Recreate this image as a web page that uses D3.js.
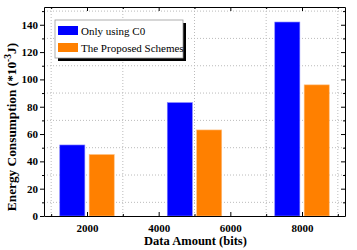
<!DOCTYPE html>
<html>
<head>
<meta charset="utf-8">
<script src="https://cdn.jsdelivr.net/npm/d3@7"></script>
<style>
body { margin: 0; background: #fff; }
svg { display: block; }
</style>
</head>
<body>
<div class="chart"></div>
<script>
var width = 357, height = 250;
var margin = {top: 7, right: 12, bottom: 34, left: 44};

// data
var groups = [2000, 5000, 8000];
var only_c0 = [52, 83, 142];
var proposed = [45, 63, 96];
var series_names = ["Only using C0", "The Proposed Schemes"];
var series_colors = ["#0000ff", "#ff8000"];
var x_ticks = [2000, 4000, 6000, 8000];
var x_minor = [1000, 3000, 5000, 7000, 9000];
var y_ticks = [0, 20, 40, 60, 80, 100, 120, 140];
var y_minor = [10, 30, 50, 70, 90, 110, 130, 150];

var svg = d3.select(".chart").append("svg")
    .attr("width", width)
    .attr("height", height)
    .style("font-family", "Liberation Serif");

var x = d3.scaleLinear()
    .domain([800, 9200])
    .range([margin.left, width - margin.right]);

var y = d3.scaleLinear()
    .domain([0, 153])
    .range([height - margin.bottom, margin.top]);

var font = "Liberation Serif";

// grid (dotted, at minor ticks)
var grid = svg.append("g").attr("class", "grid");
grid.selectAll("line.gx")
    .data(x_minor)
    .enter().append("line")
    .attr("x1", d => x(d)).attr("x2", d => x(d))
    .attr("y1", y.range()[0]).attr("y2", y.range()[1])
    .attr("stroke", "#bbb").attr("stroke-width", 1)
    .attr("stroke-dasharray", "1,2");
grid.selectAll("line.gy")
    .data(y_minor)
    .enter().append("line")
    .attr("x1", x.range()[0]).attr("x2", x.range()[1])
    .attr("y1", d => y(d)).attr("y2", d => y(d))
    .attr("stroke", "#bbb").attr("stroke-width", 1)
    .attr("stroke-dasharray", "1,2");

// bars
var barW = 700, gap = 120;
var all_series = [only_c0, proposed];
var bars = svg.append("g");
all_series.forEach(function(vals, si){
    bars.selectAll("rect.s" + si)
        .data(vals)
        .enter().append("rect")
        .attr("x", (d, i) => si == 0 ? x(groups[i] - gap / 2 - barW) : x(groups[i] + gap / 2))
        .attr("width", x(barW) - x(0))
        .attr("y", d => y(d))
        .attr("height", d => y(0) - y(d))
        .attr("fill", series_colors[si])
        .attr("stroke", si == 0 ? "#7f7fff" : "#ffc080")
        .attr("stroke-width", 0.6);
});

// axes
function styleAxis(g){
    g.attr("font-family", font);
    g.selectAll("text")
        .attr("font-family", font)
        .attr("font-weight", "bold")
        .attr("font-size", "11px")
        .attr("fill", "#000");
    g.select(".domain").attr("stroke", "#000").attr("stroke-width", 1);
    g.selectAll(".tick line").attr("stroke", "#000");
}
function minorStyle(g){
    g.select(".domain").remove();
    g.selectAll("line").attr("stroke", "#000");
}

var xAxis = svg.append("g")
    .attr("transform", "translate(0," + y.range()[0] + ")")
    .call(d3.axisBottom(x).tickValues(x_ticks).tickSize(-4).tickPadding(8).tickSizeOuter(0).tickFormat(d3.format("d")));
styleAxis(xAxis);
svg.append("g")
    .attr("transform", "translate(0," + y.range()[0] + ")")
    .call(d3.axisBottom(x).tickValues(x_minor).tickSize(-2).tickFormat("").tickSizeOuter(0))
    .call(minorStyle);

var xTop = svg.append("g")
    .attr("transform", "translate(0," + y.range()[1] + ")")
    .call(d3.axisTop(x).tickValues(x_ticks).tickSize(-4).tickFormat("").tickSizeOuter(0));
styleAxis(xTop);
svg.append("g")
    .attr("transform", "translate(0," + y.range()[1] + ")")
    .call(d3.axisTop(x).tickValues(x_minor).tickSize(-2).tickFormat("").tickSizeOuter(0))
    .call(minorStyle);

var yAxis = svg.append("g")
    .attr("transform", "translate(" + x.range()[0] + ",0)")
    .call(d3.axisLeft(y).tickValues(y_ticks).tickSize(4).tickPadding(2).tickSizeOuter(0));
styleAxis(yAxis);
svg.append("g")
    .attr("transform", "translate(" + x.range()[0] + ",0)")
    .call(d3.axisLeft(y).tickValues(y_minor).tickSize(2).tickFormat("").tickSizeOuter(0))
    .call(minorStyle);

var yRight = svg.append("g")
    .attr("transform", "translate(" + x.range()[1] + ",0)")
    .call(d3.axisRight(y).tickValues(y_ticks).tickSize(-4).tickFormat("").tickSizeOuter(0));
styleAxis(yRight);
svg.append("g")
    .attr("transform", "translate(" + x.range()[1] + ",0)")
    .call(d3.axisRight(y).tickValues(y_minor).tickSize(-2).tickFormat("").tickSizeOuter(0))
    .call(minorStyle);

// axis titles
svg.append("text")
    .attr("x", 195.5)
    .attr("y", 245)
    .attr("text-anchor", "middle")
    .attr("font-family", font)
    .attr("font-weight", "bold")
    .attr("font-size", "12.5px")
    .text("Data Amount (bits)");

var ylab = svg.append("text")
    .attr("transform", "translate(16,127) rotate(-90)")
    .attr("text-anchor", "middle")
    .attr("font-family", font)
    .attr("font-weight", "bold")
    .attr("font-size", "13.3px");
ylab.append("tspan").text("Energy Consumption (*10");
ylab.append("tspan").attr("dy", -5).attr("font-size", "9.5px").text("-3");
ylab.append("tspan").attr("dy", 5).text("J)");

// legend
var lg = svg.append("g").attr("transform", "translate(55,20)");
lg.append("rect").attr("x", 3).attr("y", 3).attr("width", 128).attr("height", 38).attr("fill", "#000");
lg.append("rect").attr("x", 0).attr("y", 0).attr("width", 128).attr("height", 38)
    .attr("fill", "#fff").attr("stroke", "#999").attr("stroke-width", 0.8);
series_names.forEach(function(name, i){
    lg.append("rect")
        .attr("x", 3).attr("y", 6 + i * 17)
        .attr("width", 20).attr("height", 9)
        .attr("fill", series_colors[i]);
    lg.append("text")
        .attr("x", 26).attr("y", 14.5 + i * 17)
        .attr("font-family", font)
        .attr("font-size", "11px")
        .text(name);
});
</script>
</body>
</html>
